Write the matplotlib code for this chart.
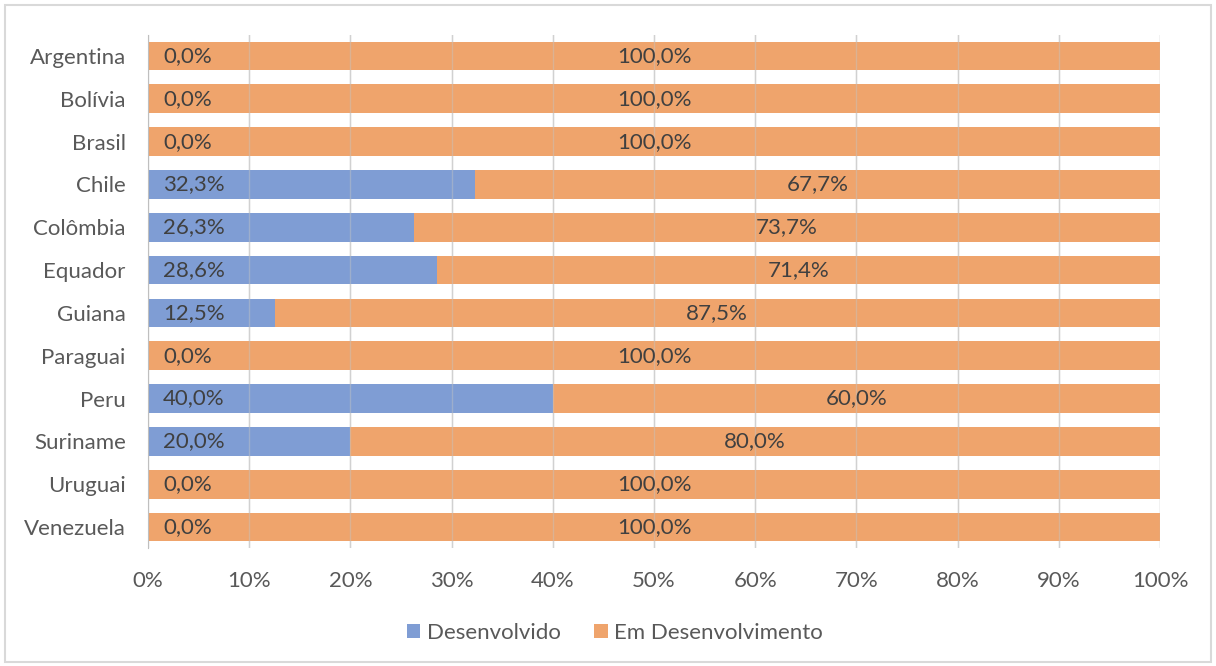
import matplotlib.pyplot as plt
from matplotlib.patches import Rectangle

plt.rcParams['font.family'] = ['Lato', 'DejaVu Sans']

# dados (%)
paises = ['Argentina', 'Bolívia', 'Brasil', 'Chile', 'Colômbia', 'Equador',
          'Guiana', 'Paraguai', 'Peru', 'Suriname', 'Uruguai', 'Venezuela']
desenvolvido = [0.0, 0.0, 0.0, 32.3, 26.3, 28.6, 12.5, 0.0, 40.0, 20.0, 0.0, 0.0]
em_desenv = [100.0, 100.0, 100.0, 67.7, 73.7, 71.4, 87.5, 100.0, 60.0, 80.0, 100.0, 100.0]
ticks_x = [0, 10, 20, 30, 40, 50, 60, 70, 80, 90, 100]

cor_azul = '#7193D0'
cor_laranja = '#EE9A5C'
cor_texto = '#404040'
cor_eixo = '#595959'
fs = 16

fig = plt.figure(figsize=(12.16, 6.66), dpi=100)
ax = fig.add_axes([148 / 1216, 1 - 548.4 / 666, 1012 / 1216, (548.4 - 34.6) / 666])

y = list(range(len(paises)))
ax.barh(y, desenvolvido, height=0.67, color=cor_azul, alpha=0.9, label='Desenvolvido', zorder=2)
ax.barh(y, em_desenv, left=desenvolvido, height=0.67, color=cor_laranja, alpha=0.9,
        label='Em Desenvolvimento', zorder=2)

# rótulos de dados
for i in y:
    ax.text(1.5, i, f'{desenvolvido[i]:.1f}%'.replace('.', ','), ha='left', va='center',
            fontsize=fs, color=cor_texto, zorder=4)
    meio = desenvolvido[i] + em_desenv[i] / 2
    ax.text(meio, i, f'{em_desenv[i]:.1f}%'.replace('.', ','), ha='center', va='center',
            fontsize=fs, color=cor_texto, zorder=4)

# linhas de grade por cima das barras (aparecem levemente)
for t in ticks_x[1:]:
    ax.axvline(t, color='#C8C8C8', linewidth=1, alpha=0.45, zorder=3)

ax.set_xlim(0, 100)
ax.set_ylim(len(paises) - 0.5, -0.5)
ax.set_yticks(y)
ax.set_yticklabels(paises)
ax.set_xticks(ticks_x)
ax.set_xticklabels([f'{t}%' for t in ticks_x])
ax.tick_params(axis='y', length=0, pad=16, labelsize=fs, labelcolor=cor_eixo)
ax.tick_params(axis='x', length=0, pad=16, labelsize=fs, labelcolor=cor_eixo)

ax.grid(axis='x', color='#D9D9D9', linewidth=1, zorder=1)
ax.set_axisbelow(True)
for s in ['top', 'right', 'bottom']:
    ax.spines[s].set_visible(False)
ax.spines['left'].set_color('#BFBFBF')

fig.legend(loc='center', bbox_to_anchor=(615 / 1216, 1 - 633 / 666), ncol=2, frameon=False,
           fontsize=fs, labelcolor=cor_eixo, handlelength=0.6, handleheight=0.6,
           handletextpad=0.3, columnspacing=1.5)

# moldura
fig.patches.append(Rectangle((5 / 1216, 4 / 666), 1 - 10 / 1216, 1 - 9 / 666,
                             transform=fig.transFigure, fill=False,
                             edgecolor='#D9D9D9', linewidth=1.5))

fig.savefig('out.png', dpi=100)
